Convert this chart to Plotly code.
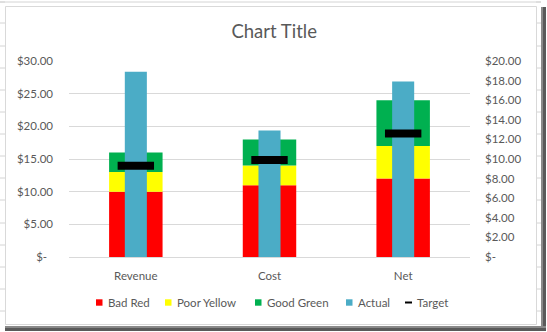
import plotly.graph_objects as go

# Bullet chart data
categories = ["Revenue", "Cost", "Net"]
bad_red = [10, 11, 12]          # band sizes on the primary axis
poor_yellow = [3, 3, 5]
good_green = [3, 4, 7]
actual = [18.9, 12.9, 17.9]     # secondary axis
target = [9.3, 9.9, 12.6]       # secondary axis

left_ticks = [0, 5, 10, 15, 20, 25, 30]
left_labels = ["$-\u00a0\u00a0", "$5.00", "$10.00", "$15.00", "$20.00", "$25.00", "$30.00"]
right_ticks = [0, 2, 4, 6, 8, 10, 12, 14, 16, 18, 20]
right_labels = ["$-", "$2.00", "$4.00", "$6.00", "$8.00", "$10.00", "$12.00",
                "$14.00", "$16.00", "$18.00", "$20.00"]

RED, YELLOW, GREEN, BLUE = "#FF0000", "#FFFF00", "#00B050", "#4BACC6"
TEXT = "#595959"
GRID = "#D9D9D9"
FONT = "Lato"
FS = 11.5

W, H = 547, 332
L, R, T, B = 69, 77, 61, 75
PW, PH = W - L - R, H - T - B


def px(x):
    return (x - L) / PW


def py(y):
    return (H - B - y) / PH


fig = go.Figure()

# stacked qualitative bands
red_base = [0] * 3
yellow_base = [r for r in bad_red]
green_base = [r + y for r, y in zip(bad_red, poor_yellow)]
for name, vals, base, col in [("Bad Red", bad_red, red_base, RED),
                              ("Poor Yellow", poor_yellow, yellow_base, YELLOW),
                              ("Good Green", good_green, green_base, GREEN)]:
    fig.add_trace(go.Bar(x=categories, y=vals, base=base, name=name, width=0.4,
                         marker=dict(color=col, line=dict(width=0)),
                         showlegend=False, yaxis="y"))

fig.add_trace(go.Bar(x=categories, y=actual, name="Actual", width=0.165,
                     marker=dict(color=BLUE, line=dict(width=0)),
                     showlegend=False, yaxis="y2"))

fig.add_trace(go.Scatter(x=categories, y=target, name="Target", mode="markers",
                         marker=dict(symbol="line-ew", size=26, color="black",
                                     line=dict(color="black", width=8)),
                         showlegend=False, yaxis="y2"))

shapes = []
# sheet row lines around the chart object
rows = [2, 23, 46, 68, 90, 112, 134, 156, 178, 200, 223, 245, 267, 289, 311]
for r in rows:
    for x0, x1 in [(0, 5), (536, 541)]:
        shapes.append(dict(type="line", xref="paper", yref="paper", layer="below",
                           x0=px(x0), x1=px(x1), y0=py(r), y1=py(r),
                           line=dict(color="#D4D4D4", width=1)))
shapes.append(dict(type="line", xref="paper", yref="paper", layer="below",
                   x0=px(0), x1=px(541), y0=py(2), y1=py(2),
                   line=dict(color="#D4D4D4", width=1)))
# chart frame
shapes.append(dict(type="rect", xref="paper", yref="paper", layer="below",
                   x0=px(5.5), x1=px(536.5), y0=py(6.5), y1=py(324.5),
                   line=dict(color=GRID, width=1), fillcolor="white"))
# drop shadow
for (x0, x1, y0, y1, c) in [(541, 543, 7, 331, "#8A8A8A"), (543, 546, 7, 331, "#5A5A5A"),
                            (5, 546, 326, 328, "#8A8A8A"), (5, 546, 328, 331, "#5A5A5A")]:
    shapes.append(dict(type="rect", xref="paper", yref="paper", layer="below",
                       x0=px(x0), x1=px(x1), y0=py(y0), y1=py(y1),
                       line=dict(width=0), fillcolor=c))

# legend
annotations = []
legend_items = [("Bad Red", RED, 96, 106), ("Poor Yellow", YELLOW, 165, 175),
                ("Good Green", GREEN, 255, 265), ("Actual", BLUE, 346, 356),
                ("Target", "black", 405, 415)]
ly = 302.5
for name, col, sx, tx in legend_items:
    if name == "Target":
        shapes.append(dict(type="line", xref="paper", yref="paper",
                           x0=px(sx), x1=px(sx + 7), y0=py(ly), y1=py(ly),
                           line=dict(color=col, width=2)))
    else:
        shapes.append(dict(type="rect", xref="paper", yref="paper",
                           x0=px(sx), x1=px(sx + 6.5), y0=py(ly - 3.2), y1=py(ly + 3.2),
                           line=dict(width=0), fillcolor=col))
    annotations.append(dict(text=name, xref="paper", yref="paper", x=px(tx), y=py(ly),
                            xanchor="left", yanchor="middle", showarrow=False,
                            font=dict(family=FONT, size=FS, color=TEXT)))

fig.update_layout(
    width=W, height=H,
    margin=dict(l=L, r=R, t=T, b=B),
    paper_bgcolor="white", plot_bgcolor="rgba(0,0,0,0)",
    barmode="overlay",
    title=dict(text="Chart Title", x=px(270), xanchor="center", y=1 - 32 / H,
               yanchor="middle", font=dict(family=FONT, size=18.5, color=TEXT)),
    xaxis=dict(type="category", range=[-0.5, 2.5], showgrid=False,
               showline=True, linecolor=GRID, linewidth=1, ticks="",
               ticklabelstandoff=8,
               tickfont=dict(family=FONT, size=FS, color=TEXT)),
    yaxis=dict(range=[0, 30], tickvals=left_ticks, ticktext=left_labels,
               showgrid=True, gridcolor=GRID, gridwidth=1, zeroline=False,
               showline=False, ticklabelstandoff=15,
               tickfont=dict(family=FONT, size=FS, color=TEXT)),
    yaxis2=dict(range=[0, 20], tickvals=right_ticks, ticktext=right_labels,
                overlaying="y", side="right", showgrid=False, zeroline=False,
                showline=False, ticklabelstandoff=14,
                tickfont=dict(family=FONT, size=FS, color=TEXT)),
    shapes=shapes, annotations=annotations,
    showlegend=False,
)

fig.write_html("out.html")
